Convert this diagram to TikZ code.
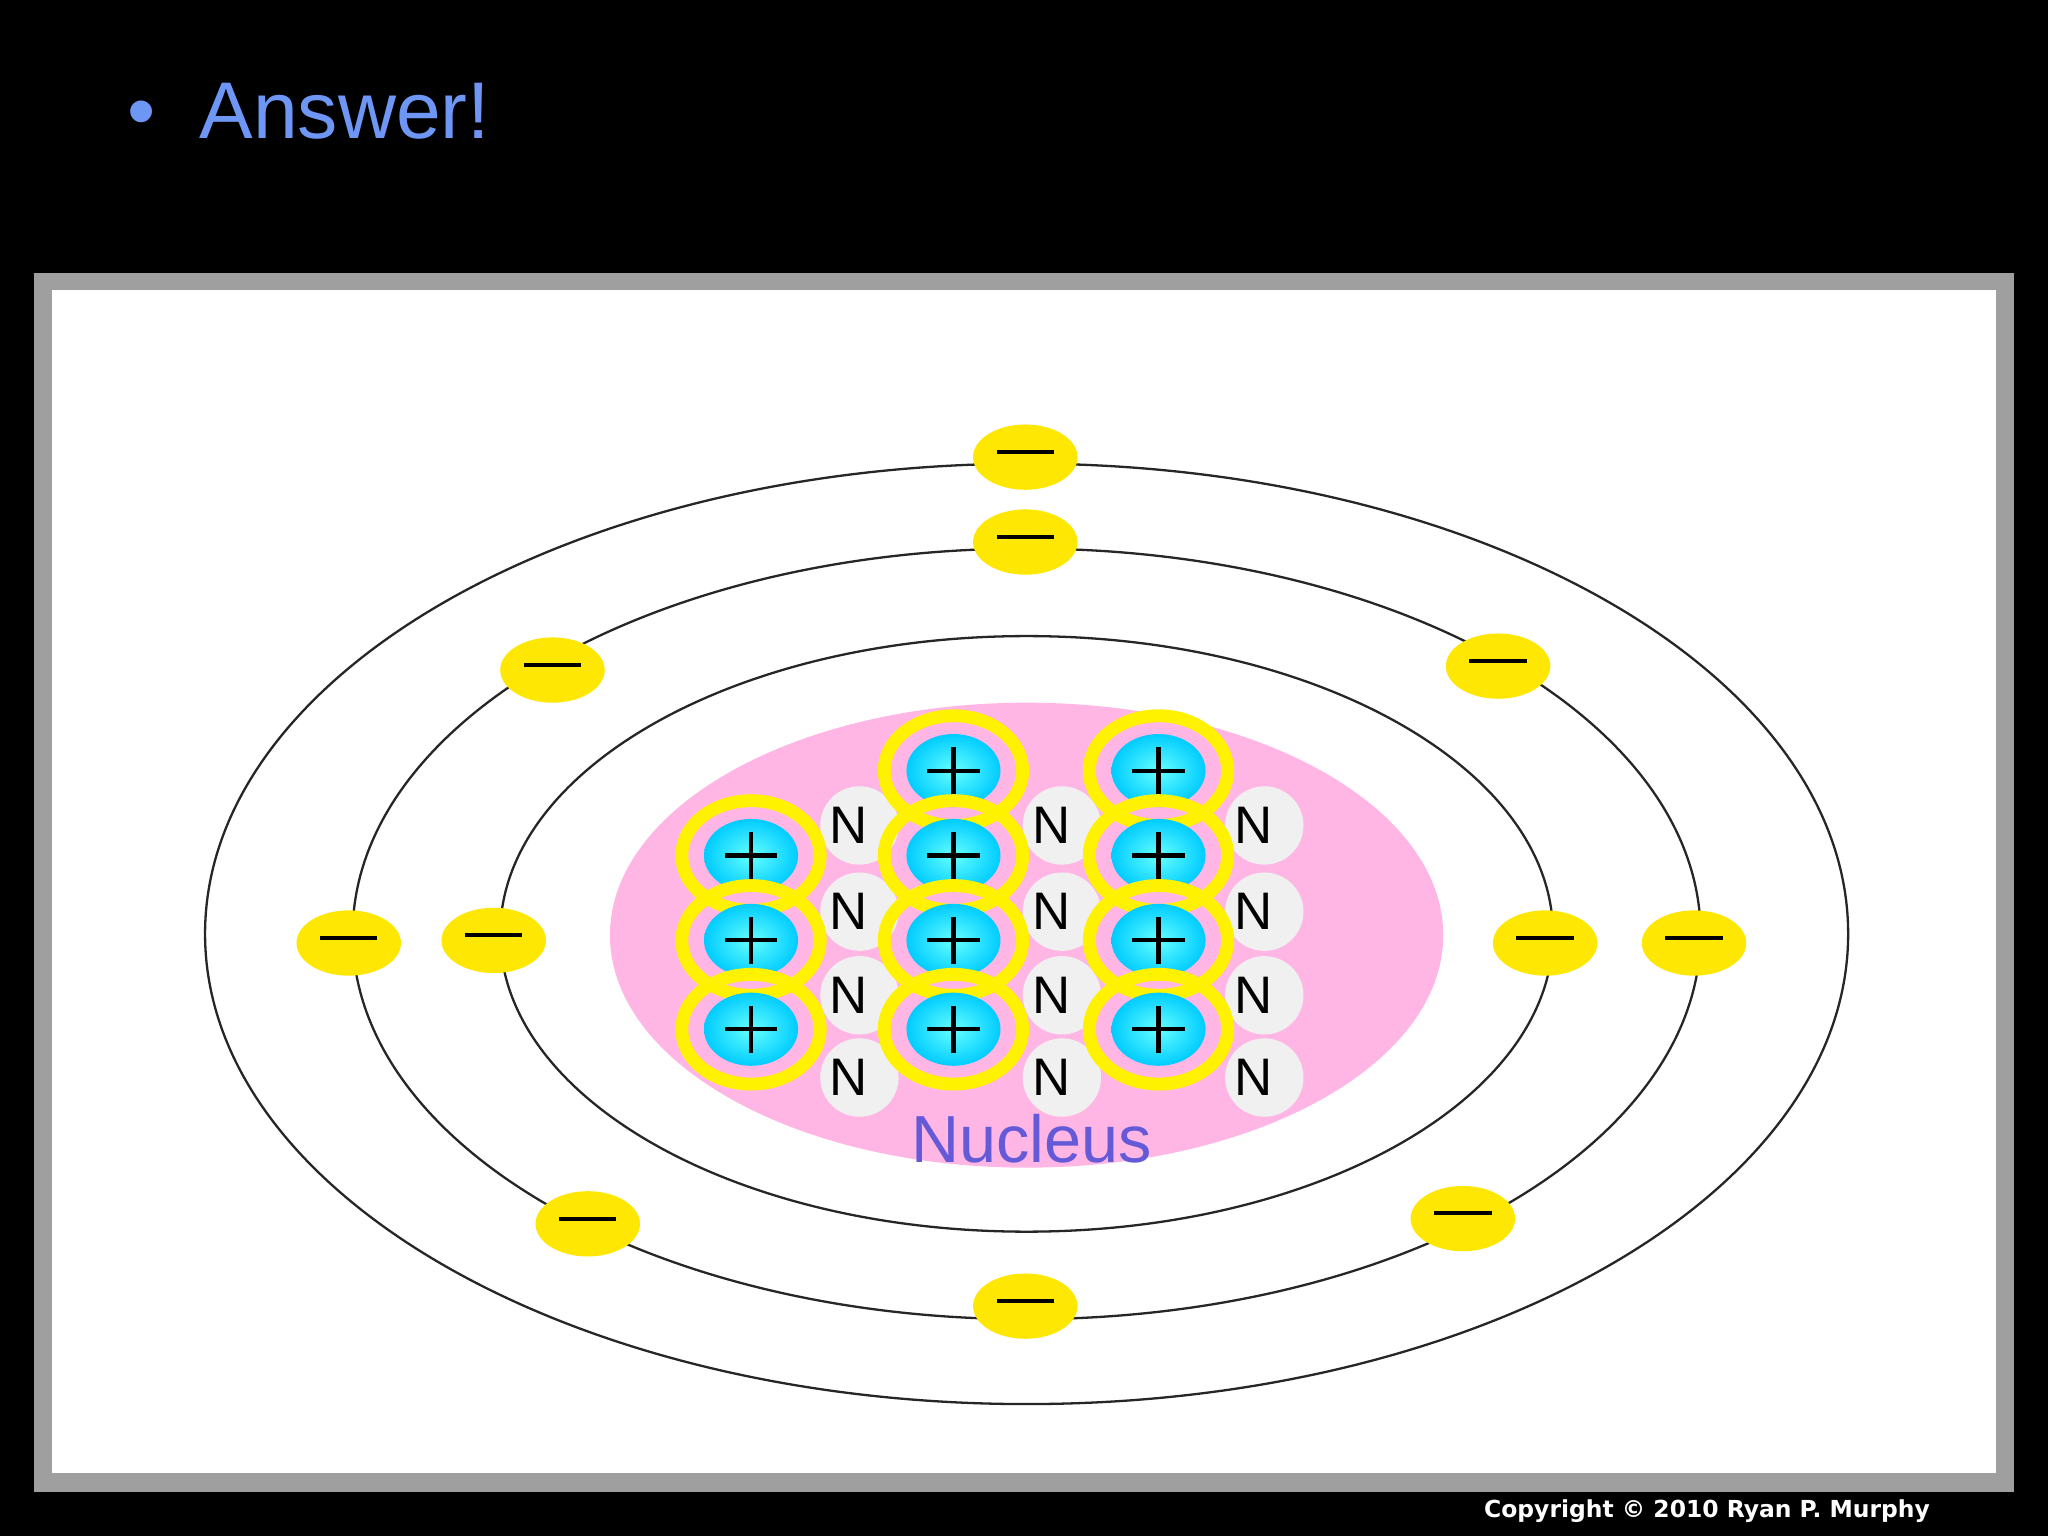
\documentclass[tikz,border=0pt]{standalone}
\usepackage{fontspec}
\setmainfont{Liberation Sans}
\newfontfamily\cpy{DejaVu Sans}
\begin{document}
\begin{tikzpicture}[x=0.01cm,y=-0.01cm,
  ring/.style={draw=yellow,line width=2.8pt},
  orbit/.style={draw=black!85,line width=0.5pt}]
\fill[black] (0,0) rectangle (1568,1176);
\useasboundingbox (0,0) rectangle (1568,1176);
\node[anchor=west,font=\fontsize{17.5}{21}\selectfont,text={rgb,255:red,110;green,150;blue,245}] (title) at (85,85) {\textbullet\hspace{0.55em}Answer!};
\fill[gray!75] (26,209) rectangle (1542,1142);
\fill[white] (40,222) rectangle (1528,1128);
\fill[pink!70!magenta!60] (786,716) ellipse [x radius=319,y radius=178];
\draw[orbit] (786,715) ellipse [x radius=629,y radius=360];
\draw[orbit] (786,715) ellipse [x radius=516,y radius=295];
\draw[orbit] (786,715) ellipse [x radius=403,y radius=228];
% electrons
\foreach \n/\x/\y in {e1/785/350,e2/785/415,e3/423/513,e4/1147/510,e5/267/722,e6/378/720,e7/1183/722,e8/1297/722,e9/450/937,e10/1120/933,e11/785/1000}{
  \fill[yellow!90!orange] (\x,\y) ellipse [x radius=40,y radius=25];
  \node (\n) at (\x,\y) {};
  \draw[line width=0.9pt] (\x-22,\y-4) -- (\x+22,\y-4);
}
% neutrons
\foreach \cx in {650,805,960}{
 \foreach \cy in {632,698,762,825}{
  \fill[gray!12] (\cx+8,\cy) circle (30);
  \node[font=\fontsize{11.5}{13}\selectfont] at (\cx,\cy) {N};
 }}
% protons
\foreach \cx/\cy in {575/655,575/720,575/788,730/590,730/655,730/720,730/788,887/590,887/655,887/720,887/788}{
  \shade[inner color=cyan!60!white,outer color=cyan!80!blue] (\cx,\cy) ellipse [x radius=36,y radius=28];
  \draw[line width=0.9pt] (\cx-20,\cy)--(\cx+20,\cy) (\cx,\cy-18)--(\cx,\cy+18);
  \draw[ring] (\cx,\cy) ellipse [x radius=53,y radius=42];
}
\node[font=\fontsize{14.5}{16}\selectfont,text={rgb,255:red,100;green,90;blue,215}] (nuc) at (790,872) {Nucleus};
\node[anchor=east,text=white,font=\cpy\bfseries\fontsize{5.1}{6}\selectfont] (copy) at (1490,1157) {Copyright © 2010 Ryan P. Murphy};
\end{tikzpicture}
\end{document}
